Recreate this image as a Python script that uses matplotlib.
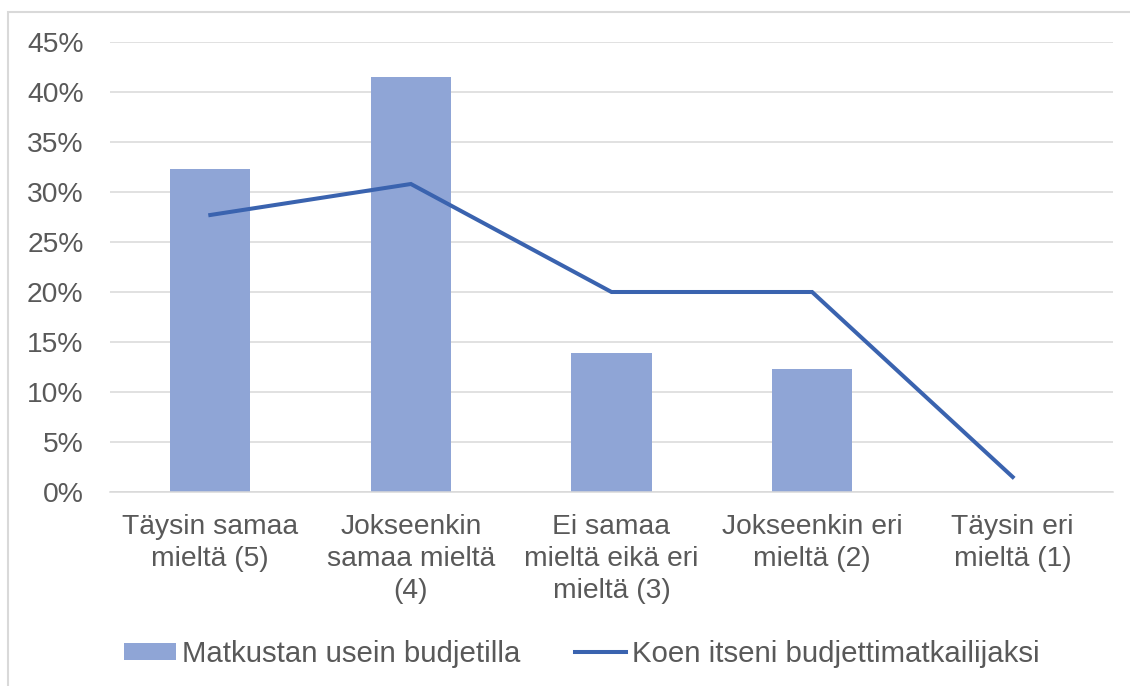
import numpy as np
import matplotlib.pyplot as plt
from matplotlib.patches import Rectangle
from matplotlib.ticker import PercentFormatter

plt.rcParams['font.family'] = ['Liberation Sans', 'DejaVu Sans']

categories = ['Täysin samaa\nmieltä (5)', 'Jokseenkin\nsamaa mieltä\n(4)',
              'Ei samaa\nmieltä eikä eri\nmieltä (3)', 'Jokseenkin eri\nmieltä (2)',
              'Täysin eri\nmieltä (1)']
budget_often = [32.3, 41.5, 13.9, 12.3, 0.0]
budget_traveller = [27.7, 30.8, 20.0, 20.0, 1.5]
labels = ['Matkustan usein budjetilla', 'Koen itseni budjettimatkailijaksi']

txt = '#595959'
fig = plt.figure(figsize=(11.3, 6.86), dpi=100)
ax = fig.add_axes([110/1130, 1-492/686, (1113-110)/1130, 450/686])

x = np.arange(len(categories))
bars = ax.bar(x, budget_often, width=0.4, color='#8FA5D6', label=labels[0], zorder=2)
line, = ax.plot(x, budget_traveller, color='#3A63AF', lw=2.9, label=labels[1], zorder=3,
                solid_joinstyle='miter')

ax.set_xlim(-0.5, 4.5)
ax.set_ylim(0, 45)
ax.set_yticks(np.arange(0, 46, 5))
ax.yaxis.set_major_formatter(PercentFormatter(decimals=0))
ax.grid(axis='y', color='#D9D9D9', lw=1.1, zorder=0)
ax.set_axisbelow(True)
for s in ['top', 'right', 'left']:
    ax.spines[s].set_visible(False)
ax.spines['bottom'].set_color('#D9D9D9')
ax.spines['bottom'].set_linewidth(1.1)
ax.set_xticks(x)
ax.set_xticklabels(categories, fontsize=20.3, color=txt, linespacing=1.3)
ax.tick_params(axis='y', length=0, pad=19, labelsize=20.3, labelcolor=txt)
ax.tick_params(axis='x', length=0, pad=16)

fig.legend([bars, line], labels, loc='center', bbox_to_anchor=(0.515, 0.047), ncol=2,
           frameon=False, fontsize=21.2, labelcolor=txt, handlelength=1.75,
           handletextpad=0.2, columnspacing=1.85, handleheight=0.5)

fig.patches.append(Rectangle((8/1130, -0.1), 1.2, 1.1 - 12/686,
                             transform=fig.transFigure, fill=False,
                             edgecolor='#D9D9D9', lw=1.5))

fig.savefig('out.png', dpi=100)
